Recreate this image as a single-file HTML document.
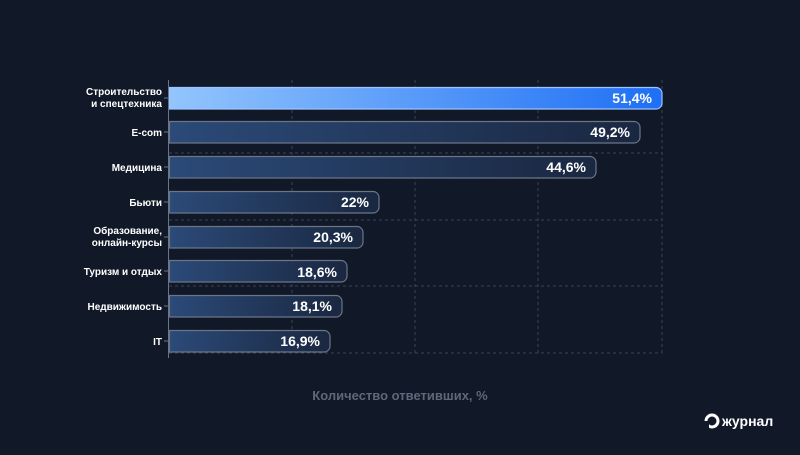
<!DOCTYPE html>
<html><head><meta charset="utf-8"><style>
body{margin:0;width:800px;height:450px;background:#111827;overflow:hidden;font-family:"Liberation Sans",sans-serif}
</style></head><body>
<svg width="800" height="450" xmlns="http://www.w3.org/2000/svg" font-family="Liberation Sans, sans-serif">
<defs>
<linearGradient id="g1" x1="0" x2="1"><stop offset="0" stop-color="#93c5fd"/><stop offset="1" stop-color="#1e6ff5"/></linearGradient>
<linearGradient id="g2" x1="0" x2="1"><stop offset="0" stop-color="#2b4a78"/><stop offset="1" stop-color="#1a2740"/></linearGradient>
</defs>
<rect width="800" height="450" fill="#111827"/>
<g stroke="#3a4456" stroke-width="1" stroke-dasharray="3,3">
<line x1="292" y1="80" x2="292" y2="353"/><line x1="415" y1="80" x2="415" y2="353"/>
<line x1="538" y1="80" x2="538" y2="353"/><line x1="662" y1="80" x2="662" y2="353"/>
<line x1="169" y1="153" x2="662" y2="153"/><line x1="169" y1="220" x2="662" y2="220"/>
<line x1="169" y1="286" x2="662" y2="286"/><line x1="169" y1="353" x2="662" y2="353"/>
</g>
<g stroke="#6b7588" stroke-width="1.2">
<path d="M169.5 87.5H656a6 6 0 0 1 6 6V103a6 6 0 0 1-6 6H169.5Z" fill="url(#g1)" stroke="#9cc4ff"/>
<path d="M169.5 121.5H634a6 6 0 0 1 6 6V137a6 6 0 0 1-6 6H169.5Z" fill="url(#g2)"/>
<path d="M169.5 156.5H590a6 6 0 0 1 6 6V172a6 6 0 0 1-6 6H169.5Z" fill="url(#g2)"/>
<path d="M169.5 191.5H373a6 6 0 0 1 6 6V207a6 6 0 0 1-6 6H169.5Z" fill="url(#g2)"/>
<path d="M169.5 226.5H357a6 6 0 0 1 6 6V242a6 6 0 0 1-6 6H169.5Z" fill="url(#g2)"/>
<path d="M169.5 260.5H341a6 6 0 0 1 6 6V276a6 6 0 0 1-6 6H169.5Z" fill="url(#g2)"/>
<path d="M169.5 295.5H336a6 6 0 0 1 6 6V311a6 6 0 0 1-6 6H169.5Z" fill="url(#g2)"/>
<path d="M169.5 330.5H324a6 6 0 0 1 6 6V346a6 6 0 0 1-6 6H169.5Z" fill="url(#g2)"/>
</g>
<line x1="168.5" y1="80" x2="168.5" y2="358" stroke="#6b7588"/>
<g stroke="#6b7588"><line x1="164" y1="98" x2="168" y2="98"/><line x1="164" y1="132" x2="168" y2="132"/><line x1="164" y1="167" x2="168" y2="167"/><line x1="164" y1="202" x2="168" y2="202"/><line x1="164" y1="237" x2="168" y2="237"/><line x1="164" y1="271" x2="168" y2="271"/><line x1="164" y1="306" x2="168" y2="306"/><line x1="164" y1="341" x2="168" y2="341"/></g>
<g fill="#fff" font-size="14" font-weight="bold" text-anchor="end">
<text x="652" y="103">51,4%</text><text x="630" y="137">49,2%</text><text x="586" y="172">44,6%</text>
<text x="369" y="207">22%</text><text x="353" y="242">20,3%</text><text x="337" y="277">18,6%</text>
<text x="332" y="311">18,1%</text><text x="320" y="346">16,9%</text>
</g>
<g fill="#fff" font-size="10" font-weight="bold" text-anchor="end">
<text x="162" y="95">Строительство</text><text x="162" y="107">и спецтехника</text>
<text x="162" y="136">E-com</text><text x="162" y="171">Медицина</text><text x="162" y="206">Бьюти</text>
<text x="162" y="234">Образование,</text><text x="162" y="246">онлайн-курсы</text>
<text x="162" y="275">Туризм и отдых</text><text x="162" y="310">Недвижимость</text><text x="162" y="345">IT</text>
</g>
<text x="400" y="400" fill="#5f6878" font-size="13" font-weight="bold" text-anchor="middle">Количество ответивших, %</text>
<circle cx="712" cy="421" r="6" fill="none" stroke="#fff" stroke-width="3"/>
<rect x="704" y="421" width="5" height="7" fill="#111827"/>
<text x="722" y="426" fill="#fff" font-size="14" font-weight="bold">журнал</text>
</svg>
</body></html>
